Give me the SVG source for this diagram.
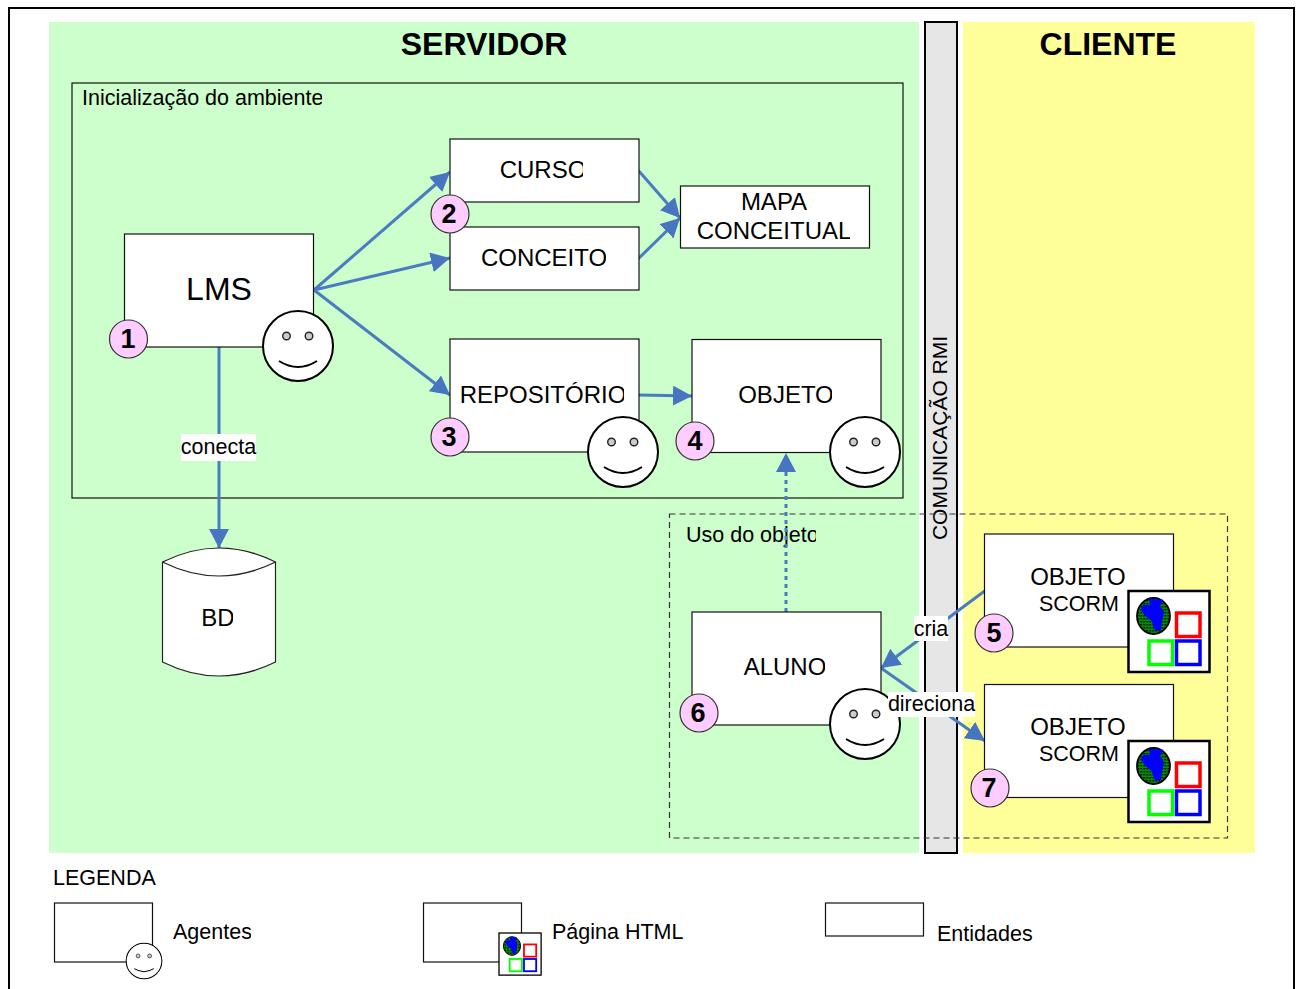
<svg xmlns="http://www.w3.org/2000/svg" width="1298" height="989" viewBox="0 0 1298 989">
<style>
text{font-family:"Liberation Sans",Arial,sans-serif;fill:#000;text-anchor:middle}
.box{fill:#fff;stroke:#111;stroke-width:1.200}
.t24{font-size:24px}
.t33{font-size:32px}
.title{font-size:32px;font-weight:bold}
.lab{font-size:21.500px}
.num{font-size:27px;font-weight:bold}
.badge{fill:#fcf;stroke:#333;stroke-width:1.200}
.conn{fill:none;stroke:#4a7cc0;stroke-width:3}
.lbg{fill:#fff}
.l{text-anchor:start}
</style>
<defs>
<marker id="arr" markerUnits="userSpaceOnUse" markerWidth="22" markerHeight="22" refX="19" refY="10" orient="auto"><path d="M0,0L19,10L0,20Z" fill="#4875c0"/></marker>
<pattern id="dots" width="3" height="3" patternUnits="userSpaceOnUse"><rect width="3" height="3" fill="#0a8a0a"/><rect width="1.500" height="1.500" fill="#000"/></pattern>
<g id="smile">
<circle cx="0" cy="0" r="35" fill="#fff" stroke="#000" stroke-width="2"/>
<circle cx="-11.500" cy="-10" r="3.800" fill="#ccc" stroke="#222" stroke-width="1.400"/>
<circle cx="11" cy="-10" r="3.800" fill="#ccc" stroke="#222" stroke-width="1.400"/>
<path d="M-19,15Q0,27 19,15" fill="none" stroke="#000" stroke-width="2"/>
</g>
<g id="page">
<rect x="0" y="0" width="81" height="81" fill="#fff" stroke="#000" stroke-width="2.500"/>
<ellipse cx="25" cy="25" rx="16.500" ry="18" fill="url(#dots)" stroke="#000" stroke-width="1.800"/>
<path d="M20.500,7.700L34.800,8.700L31.500,15.300L35.800,21L33.800,28.700L32.500,38.700L26.500,39.700L23,29.700L17.200,25.300L12.200,18.700L14.800,13.700L21.500,14.300Z" fill="#00f"/>
<rect x="48" y="22" width="23.500" height="23.500" fill="#fff" stroke="#f00" stroke-width="3.500"/>
<rect x="20.500" y="50" width="23.500" height="23.500" fill="#fff" stroke="#0f0" stroke-width="3.500"/>
<rect x="48" y="50" width="23.500" height="23.500" fill="#fff" stroke="#00f" stroke-width="3.500"/>
</g>
<clipPath id="c1"><rect x="75" y="80" width="247" height="35"/></clipPath>
<clipPath id="c2"><rect x="450" y="150" width="133" height="40"/></clipPath>
<clipPath id="c3"><rect x="450" y="240" width="156" height="40"/></clipPath>
<clipPath id="c4"><rect x="680" y="188" width="127" height="28"/></clipPath>
<clipPath id="c5"><rect x="680" y="216" width="170" height="30"/></clipPath>
<clipPath id="c6"><rect x="450" y="378" width="174" height="34"/></clipPath>
<clipPath id="c7"><rect x="700" y="378" width="132" height="34"/></clipPath>
<clipPath id="c8"><rect x="170" y="600" width="63" height="34"/></clipPath>
<clipPath id="c9"><rect x="680" y="520" width="136" height="30"/></clipPath>
<clipPath id="c10"><rect x="700" y="650" width="125" height="34"/></clipPath>
<clipPath id="c11"><rect x="1000" y="560" width="125" height="32"/></clipPath>
<clipPath id="c12"><rect x="1000" y="710" width="125" height="32"/></clipPath>
<clipPath id="c13"><rect x="170" y="915" width="81" height="34"/></clipPath>
</defs>

<rect x="9" y="8" width="1285" height="1000" fill="#fff" stroke="#000" stroke-width="2"/>
<g id="regions">
<rect x="49" y="22" width="870" height="831" fill="#cfc"/>
<rect x="963" y="22" width="292" height="831" fill="#ff9"/>
<rect x="925" y="22" width="32" height="831" fill="#e6e6e6" stroke="#000" stroke-width="2"/>
<text class="title" x="484" y="55">SERVIDOR</text>
<text class="title" x="1108" y="55">CLIENTE</text>
<text class="lab" style="font-size:21px" transform="translate(947,438) rotate(-90)">COMUNICAÇÃO RMI</text>
<rect x="72" y="83" width="831" height="415" fill="none" stroke="#111" stroke-width="1.200"/>
<text class="lab l" x="82" y="105" clip-path="url(#c1)">Inicialização do ambiente</text>
<rect x="669.500" y="514" width="558" height="324" fill="none" stroke="#333" stroke-width="1.200" stroke-dasharray="6 4"/>
<text class="lab l" x="686" y="542" clip-path="url(#c9)">Uso do objeto</text>
</g>

<g id="connectors">
<path class="conn" marker-end="url(#arr)" d="M314,290L450,172"/>
<path class="conn" marker-end="url(#arr)" d="M314,290L450,258"/>
<path class="conn" marker-end="url(#arr)" d="M314,290L450,395"/>
<path class="conn" marker-end="url(#arr)" d="M638,170L680,218"/>
<path class="conn" marker-end="url(#arr)" d="M638,259L680,218"/>
<path class="conn" marker-end="url(#arr)" d="M639,395L692,396"/>
<path class="conn" marker-end="url(#arr)" d="M219,347L219,548"/>
<path class="conn" marker-end="url(#arr)" stroke-dasharray="4 4" d="M786,612L786,453"/>
<path class="conn" marker-end="url(#arr)" d="M986,590L881,668"/>
<path class="conn" marker-end="url(#arr)" d="M881,668L985,741"/>
</g>

<g id="n-lms"><rect class="box" x="124.500" y="234" width="189" height="113"/><text class="t33" x="219" y="300">LMS</text><use href="#smile" x="298" y="346"/><circle class="badge" cx="128.500" cy="339" r="19"/><text class="num" x="128" y="348">1</text></g>
<g id="n-curso"><rect class="box" x="450" y="139" width="189" height="63"/><text class="t24" x="543" y="178" clip-path="url(#c2)">CURSO</text></g>
<g id="n-conceito"><rect class="box" x="450" y="227" width="189" height="63"/><text class="t24" x="544" y="266" clip-path="url(#c3)">CONCEITO</text></g>
<g id="n-badge2"><circle class="badge" cx="450" cy="214" r="19"/><text class="num" x="449" y="223">2</text></g>
<g id="n-mapa"><rect class="box" x="680.500" y="186" width="189" height="62"/><text class="t24" x="774" y="210" clip-path="url(#c4)">MAPA</text><text class="t24" x="774" y="239" clip-path="url(#c5)">CONCEITUAL</text></g>
<g id="n-repositorio"><rect class="box" x="450" y="339" width="189" height="113"/><text class="t24" x="543" y="403" clip-path="url(#c6)">REPOSITÓRIO</text><use href="#smile" x="623" y="452"/><circle class="badge" cx="450" cy="437" r="19"/><text class="num" x="449" y="446">3</text></g>
<g id="n-objeto"><rect class="box" x="692" y="339.500" width="189" height="113"/><text class="t24" x="786" y="403" clip-path="url(#c7)">OBJETO</text><use href="#smile" x="865" y="452"/><circle class="badge" cx="695" cy="441" r="19"/><text class="num" x="695" y="450">4</text></g>
<g id="n-bd"><path d="M162.500,562Q219,534 275.500,562V662Q219,690 162.500,662Z" fill="#fff" stroke="#222" stroke-width="1.200"/><path d="M162.500,562Q219,590 275.500,562" fill="none" stroke="#222" stroke-width="1.200"/><text class="t24" x="218" y="626" clip-path="url(#c8)">BD</text></g>
<g id="n-aluno"><rect class="box" x="692" y="612" width="189" height="113"/><text class="t24" x="785" y="675" clip-path="url(#c10)">ALUNO</text><use href="#smile" x="865" y="724"/><circle class="badge" cx="699" cy="713" r="19"/><text class="num" x="698" y="722">6</text></g>
<g id="n-scorm5"><rect class="box" x="984.500" y="534" width="189" height="113"/><text class="t24" x="1078" y="585" clip-path="url(#c11)">OBJETO</text><text class="lab" x="1079" y="611">SCORM</text><use href="#page" x="1128.500" y="591"/><circle class="badge" cx="994" cy="633" r="19"/><text class="num" x="994" y="642">5</text></g>
<g id="n-scorm7"><rect class="box" x="984.500" y="684.500" width="189" height="113"/><text class="t24" x="1078" y="735" clip-path="url(#c12)">OBJETO</text><text class="lab" x="1079" y="761">SCORM</text><use href="#page" x="1128.500" y="741"/><circle class="badge" cx="990" cy="788" r="19"/><text class="num" x="989" y="797">7</text></g>

<g id="labels">
<rect class="lbg" x="181" y="434" width="75" height="27"/><text class="lab" x="218.500" y="454">conecta</text>
<rect class="lbg" x="914" y="616" width="34" height="25"/><text class="lab" x="931" y="636">cria</text>
<rect class="lbg" x="888" y="692" width="87" height="25"/><text class="lab" x="931.500" y="711">direciona</text>
</g>

<g id="legend">
<text class="lab l" x="53" y="885">LEGENDA</text>
<rect class="box" x="54.500" y="903" width="98" height="59"/>
<g transform="translate(144,961) scale(.51)"><use href="#smile"/></g>
<text class="lab l" x="173" y="939" clip-path="url(#c13)">Agentes</text>
<rect class="box" x="423.500" y="903" width="98" height="59"/>
<g transform="translate(499,933) scale(.52)"><use href="#page"/></g>
<text class="lab l" x="552" y="939">Página HTML</text>
<rect class="box" x="825.500" y="903" width="98" height="33"/>
<text class="lab l" x="937" y="941">Entidades</text>
</g>
</svg>
